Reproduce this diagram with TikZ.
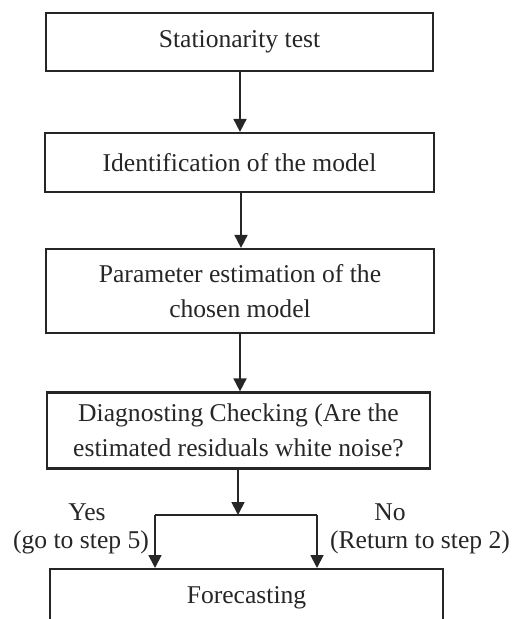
\documentclass[tikz,border=0pt]{standalone}
\usepackage{fontspec}
\setmainfont{Liberation Serif}
\usetikzlibrary{arrows.meta}
\begin{document}
\begin{tikzpicture}[x=0.5pt,y=-0.5pt,
    box/.style={draw=black!85,line width=1.1pt,minimum width=193.5pt,minimum height=29pt,
      align=center,text=black!85,font=\fontsize{12.8}{17.5}\selectfont},
    arr/.style={draw=black!85,line width=0.9pt,-{Triangle[length=6.5pt,width=6.5pt]}},
    lbl/.style={inner sep=0pt,text=black!85,font=\fontsize{12.8}{15}\selectfont}]
    \useasboundingbox (0,0) rectangle (512,619);
    \clip (0,0) rectangle (512,619);
    \node[box] (stat) at (239.5,42) {Stationarity test};
    \node[box,minimum width=194.5pt,minimum height=29.5pt] (ident) at (239.5,162.5) {Identification of the model};
    \node[box,minimum width=194pt,minimum height=42pt] (param) at (240,291) {Parameter estimation of the\\chosen model};
    \node[box,minimum width=191.5pt,minimum height=38pt] (diag) at (238.5,430.5) {Diagnosting Checking (Are the\\estimated residuals white noise?};
    \node[box,minimum width=196.5pt,anchor=north] (fore) at (246.5,568) {Forecasting};
    \draw[arr] (stat.south -| 240,0) -- (ident.north -| 240,0);
    \draw[arr] (ident.south -| 241,0) -- (param.north -| 241,0);
    \draw[arr] (param.south -| 240,0) -- (diag.north -| 240,0);
    \coordinate (split) at (238,515);
    \coordinate (yes) at (155,515);
    \coordinate (no) at (317,515);
    \draw[arr] (diag.south -| split) -- (split);
    \draw[draw=black!85,line width=0.9pt] (yes) -- (no);
    \foreach \c in {yes,no}
        {\draw[arr] (\c) -- (\c |- fore.north);}
    \node[lbl] (yestxt) at (87,512) {Yes};
    \node[lbl] (yesstep) at (81,542) {(go to step 5)};
    \node[lbl] (notxt) at (390,512) {No};
    \node[lbl] (nostep) at (420,542) {(Return to step 2)};
\end{tikzpicture}
\end{document}
